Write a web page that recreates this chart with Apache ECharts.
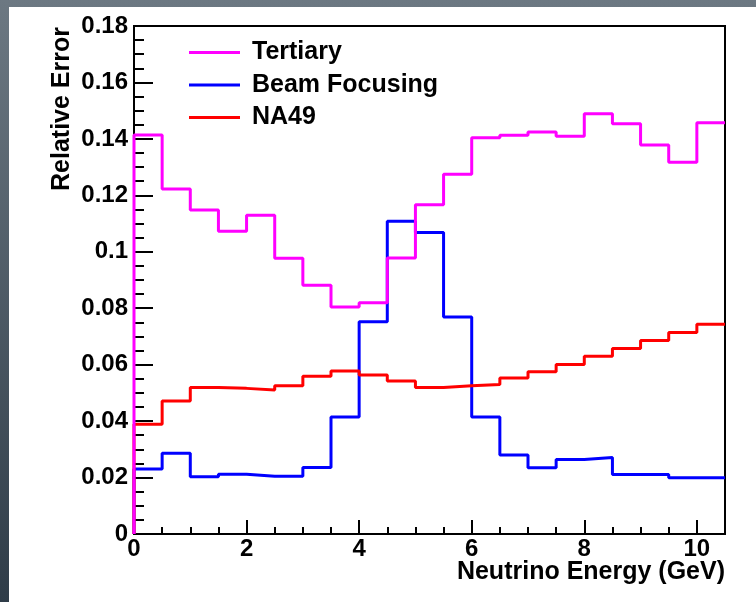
<!DOCTYPE html>
<html>
<head>
<meta charset="utf-8">
<script src="https://cdn.jsdelivr.net/npm/echarts@6/dist/echarts.min.js"></script>
<style>
    html, body {
        margin: 0;
        padding: 0;
        width: 756px;
        height: 602px;
        overflow: hidden;
        background: linear-gradient(to bottom, #6c7882, #2f3c48);
    }
    #paper {
        position: absolute;
        left: 9px;
        top: 7px;
        width: 747px;
        height: 595px;
        background: #fff;
    }
    #chart {
        position: absolute;
        left: 0;
        top: 0;
        width: 756px;
        height: 602px;
    }
</style>
</head>
<body>
<div id="paper"></div>
<div id="chart"></div>
<script>
// bin lower edges (GeV), bins are 0.5 GeV wide, last bin ends at 10.5
const binEdges = [0, 0.5, 1, 1.5, 2, 2.5, 3, 3.5, 4, 4.5, 5, 5.5, 6, 6.5, 7, 7.5, 8, 8.5, 9, 9.5, 10]
const xMax = 10.5

const tertiary = [0.1414, 0.1222, 0.1148, 0.1073, 0.1129, 0.0977, 0.0881, 0.0804, 0.0819, 0.0978, 0.1167,
    0.1275, 0.1404, 0.1413, 0.1424, 0.1409, 0.1489, 0.1454, 0.1378, 0.1317, 0.1457]
const beamFocusing = [0.0230, 0.0286, 0.0203, 0.0212, 0.0205, 0.0205, 0.0236, 0.0415, 0.0752, 0.1108, 0.1068,
    0.0769, 0.0415, 0.0280, 0.0235, 0.0264, 0.0271, 0.0211, 0.0211, 0.0199, 0.0199]
const na49 = [0.0389, 0.0471, 0.0519, 0.0516, 0.0510, 0.0525, 0.0559, 0.0578, 0.0563, 0.0542, 0.0519,
    0.0525, 0.0530, 0.0553, 0.0575, 0.0601, 0.0630, 0.0657, 0.0686, 0.0714, 0.0743]

const FONT = '"Liberation Sans", Arial, Helvetica, sans-serif'

// histogram outline: start at 0, step through bins, end at the right edge
function histPoints(vals) {
    let pts = [[0, 0]]
    for (let i = 0; i < binEdges.length; i++) {
        pts.push([binEdges[i], vals[i]])
    }
    pts.push([xMax, vals[vals.length - 1]])
    return pts
}

function histSeries(name, vals, color) {
    return {
        name: name,
        type: 'line',
        step: 'end',
        showSymbol: false,
        symbol: 'none',
        color: color,
        lineStyle: { color: color, width: 3 },
        data: histPoints(vals)
    }
}

const chart = echarts.init(document.getElementById('chart'))

chart.setOption({
    animation: false,
    backgroundColor: 'transparent',
    textStyle: { fontFamily: FONT },
    grid: {
        left: 134,
        top: 26,
        right: 31,
        bottom: 68,
        show: true,
        borderColor: '#000',
        borderWidth: 2,
        backgroundColor: 'transparent'
    },
    legend: {
        data: ['Tertiary', 'Beam Focusing', 'NA49'],
        orient: 'vertical',
        left: 189,
        top: 40,
        padding: 0,
        icon: 'rect',
        itemWidth: 51,
        itemHeight: 3,
        itemGap: 7.5,
        selectedMode: false,
        textStyle: {
            fontFamily: FONT,
            fontSize: 25,
            fontWeight: 'bold',
            color: '#000',
            lineHeight: 25,
            padding: [0, 0, 0, 7]
        }
    },
    xAxis: [
        {
            // major ticks + labels
            type: 'value',
            position: 'bottom',
            min: 0,
            max: xMax,
            interval: 2,
            axisLine: { show: true, lineStyle: { color: '#000', width: 2 } },
            axisTick: { show: true, inside: true, length: 14, lineStyle: { color: '#000', width: 2 } },
            axisLabel: {
                color: '#000',
                fontSize: 24,
                fontWeight: 'bold',
                fontFamily: FONT,
                margin: 3,
                formatter: function (v) {
                    return v % 2 === 0 ? String(v) : ''
                }
            },
            splitLine: { show: false }
        },
        {
            // minor ticks every 0.5 GeV
            type: 'value',
            position: 'bottom',
            min: 0,
            max: xMax,
            interval: 0.5,
            axisLine: { show: false },
            axisTick: { show: true, inside: true, length: 7, lineStyle: { color: '#000', width: 2 } },
            axisLabel: { show: false },
            splitLine: { show: false }
        }
    ],
    yAxis: {
        type: 'value',
        min: 0,
        max: 0.18,
        interval: 0.02,
        axisLine: { show: true, lineStyle: { color: '#000', width: 2 } },
        axisTick: { show: true, inside: true, length: 19, lineStyle: { color: '#000', width: 2 } },
        minorTick: { show: true, splitNumber: 4, length: 10, lineStyle: { color: '#000', width: 2 } },
        axisLabel: {
            color: '#000',
            fontSize: 24,
            fontWeight: 'bold',
            fontFamily: FONT,
            margin: 6
        },
        splitLine: { show: false },
        minorSplitLine: { show: false }
    },
    graphic: [
        {
            type: 'text',
            x: 62,
            y: 27,
            rotation: Math.PI / 2,
            style: {
                text: 'Relative Error',
                fill: '#000',
                font: 'bold 25px ' + FONT,
                textAlign: 'right',
                textVerticalAlign: 'middle'
            }
        },
        {
            type: 'text',
            x: 725,
            y: 572,
            style: {
                text: 'Neutrino Energy (GeV)',
                fill: '#000',
                font: 'bold 25px ' + FONT,
                textAlign: 'right',
                textVerticalAlign: 'middle'
            }
        }
    ],
    series: [
        histSeries('Beam Focusing', beamFocusing, '#0000ff'),
        histSeries('NA49', na49, '#ff0000'),
        histSeries('Tertiary', tertiary, '#ff00ff')
    ]
})
</script>
</body>
</html>
